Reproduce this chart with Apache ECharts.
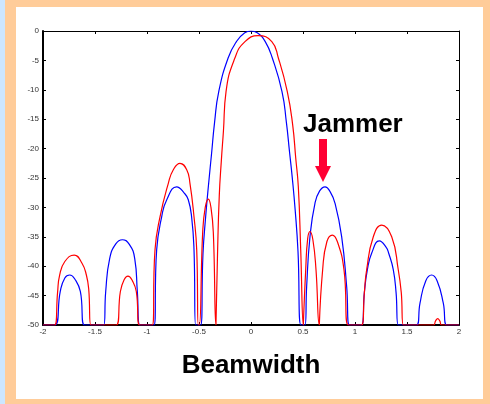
<!DOCTYPE html>
<html>
<head>
<meta charset="utf-8">
<script src="https://cdn.jsdelivr.net/npm/echarts@6/dist/echarts.min.js"></script>
<style>
  html, body { margin: 0; padding: 0; background: #cce6ff; }
  #frame { position: absolute; left: 5px; top: 0; width: 485px; height: 404px; background: #ffcc99; }
  #chart { position: absolute; left: 16px; top: 7px; width: 467px; height: 392px; background: #fff; }
</style>
</head>
<body>
<div id="frame"></div>
<div id="chart"></div>
<script>
// beam pattern, steered to 0 (blue) — [beamwidth, dB], clipped at -50
const blueBeam = [
  [-2, -50], [-1.887, -50], [-1.834, -44.3], [-1.79, -42], [-1.743, -41.5], [-1.69, -42.3], [-1.641, -44.3], [-1.6, -50],
  [-1.416, -50], [-1.397, -44.3], [-1.359, -38.7], [-1.3, -36.2], [-1.237, -35.5], [-1.17, -36.3], [-1.118, -38.7], [-1.093, -44.3], [-1.07, -50],
  [-0.933, -50], [-0.907, -37.2], [-0.859, -31.6], [-0.81, -28.7], [-0.715, -26.5], [-0.64, -27.6], [-0.603, -28.7], [-0.571, -31.6], [-0.548, -37.2], [-0.532, -50],
  [-0.484, -50], [-0.462, -38], [-0.436, -31.6], [-0.405, -25.5], [-0.38, -21], [-0.35, -15.5], [-0.31, -10.3], [-0.22, -4.6], [-0.14, -1.8], [-0.06, -0.3],
  [0, 0], [0.06, -0.3], [0.137, -1.8], [0.205, -4.6], [0.298, -10.3], [0.34, -15.5], [0.37, -20.5], [0.396, -24.8], [0.425, -30.5], [0.452, -37.5], [0.48, -50],
  [0.519, -50], [0.535, -43.5], [0.567, -35], [0.615, -29.3], [0.66, -27.2], [0.712, -26.5], [0.76, -27.3], [0.808, -29.3], [0.872, -35], [0.92, -43.5], [0.945, -50],
  [1.064, -50], [1.09, -44.5], [1.119, -40.6], [1.16, -37.8], [1.234, -35.7], [1.3, -36.8], [1.324, -37.8], [1.368, -40.6], [1.395, -44.5], [1.416, -50],
  [1.593, -50], [1.625, -46.3], [1.68, -42.5], [1.737, -41.5], [1.79, -42.5], [1.849, -46.3], [1.882, -50], [2, -50]
];

// pattern with the jammer null (red)
const redBeam = [
  [-2, -50], [-1.887, -50], [-1.86, -44.5], [-1.84, -41.5], [-1.79, -39.2], [-1.7, -38.1], [-1.625, -39.5], [-1.583, -41.5], [-1.56, -44], [-1.54, -50],
  [-1.295, -50], [-1.256, -44.3], [-1.22, -42.3], [-1.183, -41.7], [-1.14, -42.5], [-1.103, -44.3], [-1.07, -50],
  [-0.949, -50], [-0.923, -37.2], [-0.875, -31.6], [-0.795, -25.9], [-0.747, -23.6], [-0.683, -22.5], [-0.618, -23.6], [-0.587, -25.9], [-0.548, -31.6], [-0.522, -37.2], [-0.507, -50],
  [-0.497, -50], [-0.465, -34.4], [-0.44, -30], [-0.41, -28.6], [-0.385, -30], [-0.362, -34.4], [-0.337, -50],
  [-0.333, -50], [-0.322, -38], [-0.305, -28], [-0.285, -22], [-0.265, -17], [-0.24, -10.3], [-0.155, -4.6], [-0.058, -1.8],
  [0.07, -0.8], [0.2, -1.8], [0.263, -4.6], [0.349, -10.3], [0.401, -16], [0.43, -21.6], [0.455, -26.5], [0.478, -37.2], [0.503, -50],
  [0.505, -50], [0.526, -40.6], [0.545, -35.3], [0.567, -34.1], [0.595, -35.5], [0.625, -40.6], [0.657, -50],
  [0.663, -50], [0.689, -40.6], [0.73, -35.8], [0.782, -34.7], [0.83, -35.8], [0.894, -40.6], [0.936, -50],
  [1.064, -50], [1.09, -44.5], [1.112, -40.6], [1.176, -35], [1.257, -33], [1.353, -35], [1.416, -40.6], [1.445, -44.5], [1.465, -50],
  [1.753, -50], [1.775, -49.3], [1.795, -48.9], [1.815, -49.3], [1.834, -50], [2, -50]
];

const xRange = [-2, 2];
const yRange = [-50, 0];

const chart = echarts.init(document.getElementById('chart'), null, { renderer: 'canvas' });

const labelStyle = { color: '#333', fontSize: 8, fontFamily: 'Liberation Sans, Arial, sans-serif' };
const tickIn = { show: true, inside: true, length: 3, lineStyle: { color: '#000', width: 1 } };

chart.setOption({
  animation: false,
  backgroundColor: '#fff',
  grid: { left: 27, top: 24, right: 24, bottom: 74 },
  xAxis: [
    {
      type: 'value', min: xRange[0], max: xRange[1], interval: 0.5,
      axisLine: { onZero: false, lineStyle: { color: '#000', width: 2 } },
      axisTick: tickIn,
      axisLabel: Object.assign({ margin: 3 }, labelStyle),
      splitLine: { show: false },
      name: 'Beamwidth', nameLocation: 'middle', nameGap: 28,
      nameTextStyle: { fontSize: 26, fontWeight: 'bold', color: '#000', fontFamily: 'Liberation Sans, Arial, sans-serif' },
    },
    {
      type: 'value', position: 'top', min: xRange[0], max: xRange[1], interval: 0.5,
      axisLine: { show: true, onZero: false, lineStyle: { color: '#000', width: 1 } },
      axisTick: tickIn,
      axisLabel: { show: false },
      splitLine: { show: false },
    },
  ],
  yAxis: [
    {
      type: 'value', min: yRange[0], max: yRange[1], interval: 5,
      axisLine: { show: true, onZero: false, lineStyle: { color: '#000', width: 2 } },
      axisTick: tickIn,
      axisLabel: Object.assign({ margin: 4 }, labelStyle),
      splitLine: { show: false },
    },
    {
      type: 'value', position: 'right', min: yRange[0], max: yRange[1], interval: 5,
      axisLine: { show: true, onZero: false, lineStyle: { color: '#000', width: 1 } },
      axisTick: tickIn,
      axisLabel: { show: false },
      splitLine: { show: false },
    },
  ],
  series: [
    {
      name: 'steered', type: 'line', data: blueBeam, showSymbol: false,
      smooth: 0.5,
      lineStyle: { color: '#0000ff', width: 1.2 },
    },
    {
      name: 'nulled', type: 'line', data: redBeam, showSymbol: false,
      smooth: 0.5,
      lineStyle: { color: '#ff0000', width: 1.2 },
    },
  ],
  graphic: [
    {
      type: 'text', left: 287, top: 105,
      style: { text: 'Jammer', fontSize: 26, fontWeight: 'bold', fill: '#000', fontFamily: 'Liberation Sans, Arial, sans-serif' },
    },
    {
      type: 'polygon',
      shape: { points: [[303, 132], [311, 132], [311, 159], [315, 159], [307, 175], [299, 159], [303, 159]] },
      style: { fill: '#ff0033' },
    },
  ],
});

window.addEventListener('resize', () => chart.resize());
</script>
</body>
</html>
